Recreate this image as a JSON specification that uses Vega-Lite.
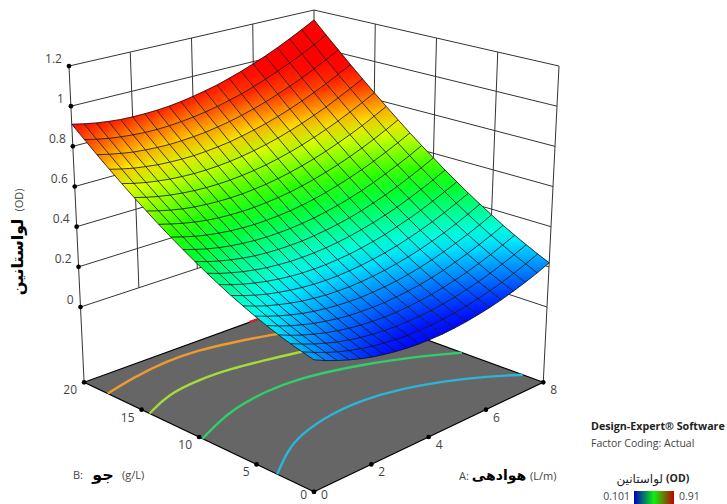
{"$schema":"https://vega.github.io/schema/vega-lite/v6.json","width":727,"height":504,"padding":0,"autosize":{"type":"none"},"background":"white","config":{"view":{"stroke":null}},
"datasets":{
"grid":[
{"A":0,"B":0,"OD":0.23},{"A":0,"B":1,"OD":0.244},{"A":0,"B":2,"OD":0.259},{"A":0,"B":3,"OD":0.277},{"A":0,"B":4,"OD":0.297},{"A":0,"B":5,"OD":0.319},{"A":0,"B":6,"OD":0.344},{"A":0,"B":7,"OD":0.37},{"A":0,"B":8,"OD":0.399},{"A":0,"B":9,"OD":0.43},{"A":0,"B":10,"OD":0.463},{"A":0,"B":11,"OD":0.498},{"A":0,"B":12,"OD":0.535},{"A":0,"B":13,"OD":0.574},{"A":0,"B":14,"OD":0.616},{"A":0,"B":15,"OD":0.659},{"A":0,"B":16,"OD":0.705},{"A":0,"B":17,"OD":0.753},{"A":0,"B":18,"OD":0.803},{"A":0,"B":19,"OD":0.856},{"A":0,"B":20,"OD":0.91},
{"A":0.4,"B":0,"OD":0.204},{"A":0.4,"B":1,"OD":0.219},{"A":0.4,"B":2,"OD":0.235},{"A":0.4,"B":3,"OD":0.253},{"A":0.4,"B":4,"OD":0.274},{"A":0.4,"B":5,"OD":0.297},{"A":0.4,"B":6,"OD":0.322},{"A":0.4,"B":7,"OD":0.349},{"A":0.4,"B":8,"OD":0.378},{"A":0.4,"B":9,"OD":0.409},{"A":0.4,"B":10,"OD":0.443},{"A":0.4,"B":11,"OD":0.479},{"A":0.4,"B":12,"OD":0.517},{"A":0.4,"B":13,"OD":0.557},{"A":0.4,"B":14,"OD":0.599},{"A":0.4,"B":15,"OD":0.643},{"A":0.4,"B":16,"OD":0.689},{"A":0.4,"B":17,"OD":0.738},{"A":0.4,"B":18,"OD":0.789},{"A":0.4,"B":19,"OD":0.842},{"A":0.4,"B":20,"OD":0.897},
{"A":0.8,"B":0,"OD":0.181},{"A":0.8,"B":1,"OD":0.196},{"A":0.8,"B":2,"OD":0.213},{"A":0.8,"B":3,"OD":0.232},{"A":0.8,"B":4,"OD":0.253},{"A":0.8,"B":5,"OD":0.277},{"A":0.8,"B":6,"OD":0.302},{"A":0.8,"B":7,"OD":0.33},{"A":0.8,"B":8,"OD":0.36},{"A":0.8,"B":9,"OD":0.392},{"A":0.8,"B":10,"OD":0.426},{"A":0.8,"B":11,"OD":0.462},{"A":0.8,"B":12,"OD":0.501},{"A":0.8,"B":13,"OD":0.542},{"A":0.8,"B":14,"OD":0.584},{"A":0.8,"B":15,"OD":0.629},{"A":0.8,"B":16,"OD":0.676},{"A":0.8,"B":17,"OD":0.725},{"A":0.8,"B":18,"OD":0.777},{"A":0.8,"B":19,"OD":0.83},{"A":0.8,"B":20,"OD":0.886},
{"A":1.2,"B":0,"OD":0.161},{"A":1.2,"B":1,"OD":0.176},{"A":1.2,"B":2,"OD":0.194},{"A":1.2,"B":3,"OD":0.214},{"A":1.2,"B":4,"OD":0.236},{"A":1.2,"B":5,"OD":0.26},{"A":1.2,"B":6,"OD":0.286},{"A":1.2,"B":7,"OD":0.314},{"A":1.2,"B":8,"OD":0.345},{"A":1.2,"B":9,"OD":0.377},{"A":1.2,"B":10,"OD":0.412},{"A":1.2,"B":11,"OD":0.449},{"A":1.2,"B":12,"OD":0.488},{"A":1.2,"B":13,"OD":0.529},{"A":1.2,"B":14,"OD":0.572},{"A":1.2,"B":15,"OD":0.618},{"A":1.2,"B":16,"OD":0.666},{"A":1.2,"B":17,"OD":0.716},{"A":1.2,"B":18,"OD":0.767},{"A":1.2,"B":19,"OD":0.822},{"A":1.2,"B":20,"OD":0.878},
{"A":1.6,"B":0,"OD":0.143},{"A":1.6,"B":1,"OD":0.159},{"A":1.6,"B":2,"OD":0.177},{"A":1.6,"B":3,"OD":0.198},{"A":1.6,"B":4,"OD":0.22},{"A":1.6,"B":5,"OD":0.245},{"A":1.6,"B":6,"OD":0.272},{"A":1.6,"B":7,"OD":0.301},{"A":1.6,"B":8,"OD":0.332},{"A":1.6,"B":9,"OD":0.365},{"A":1.6,"B":10,"OD":0.4},{"A":1.6,"B":11,"OD":0.438},{"A":1.6,"B":12,"OD":0.478},{"A":1.6,"B":13,"OD":0.519},{"A":1.6,"B":14,"OD":0.563},{"A":1.6,"B":15,"OD":0.61},{"A":1.6,"B":16,"OD":0.658},{"A":1.6,"B":17,"OD":0.708},{"A":1.6,"B":18,"OD":0.761},{"A":1.6,"B":19,"OD":0.816},{"A":1.6,"B":20,"OD":0.872},
{"A":2,"B":0,"OD":0.128},{"A":2,"B":1,"OD":0.145},{"A":2,"B":2,"OD":0.164},{"A":2,"B":3,"OD":0.185},{"A":2,"B":4,"OD":0.208},{"A":2,"B":5,"OD":0.233},{"A":2,"B":6,"OD":0.26},{"A":2,"B":7,"OD":0.29},{"A":2,"B":8,"OD":0.322},{"A":2,"B":9,"OD":0.355},{"A":2,"B":10,"OD":0.391},{"A":2,"B":11,"OD":0.43},{"A":2,"B":12,"OD":0.47},{"A":2,"B":13,"OD":0.512},{"A":2,"B":14,"OD":0.557},{"A":2,"B":15,"OD":0.604},{"A":2,"B":16,"OD":0.653},{"A":2,"B":17,"OD":0.704},{"A":2,"B":18,"OD":0.757},{"A":2,"B":19,"OD":0.812},{"A":2,"B":20,"OD":0.87},
{"A":2.4,"B":0,"OD":0.116},{"A":2.4,"B":1,"OD":0.133},{"A":2.4,"B":2,"OD":0.152},{"A":2.4,"B":3,"OD":0.174},{"A":2.4,"B":4,"OD":0.198},{"A":2.4,"B":5,"OD":0.224},{"A":2.4,"B":6,"OD":0.252},{"A":2.4,"B":7,"OD":0.282},{"A":2.4,"B":8,"OD":0.314},{"A":2.4,"B":9,"OD":0.349},{"A":2.4,"B":10,"OD":0.385},{"A":2.4,"B":11,"OD":0.424},{"A":2.4,"B":12,"OD":0.465},{"A":2.4,"B":13,"OD":0.508},{"A":2.4,"B":14,"OD":0.553},{"A":2.4,"B":15,"OD":0.601},{"A":2.4,"B":16,"OD":0.65},{"A":2.4,"B":17,"OD":0.702},{"A":2.4,"B":18,"OD":0.755},{"A":2.4,"B":19,"OD":0.811},{"A":2.4,"B":20,"OD":0.87},
{"A":2.8,"B":0,"OD":0.106},{"A":2.8,"B":1,"OD":0.124},{"A":2.8,"B":2,"OD":0.144},{"A":2.8,"B":3,"OD":0.166},{"A":2.8,"B":4,"OD":0.19},{"A":2.8,"B":5,"OD":0.217},{"A":2.8,"B":6,"OD":0.245},{"A":2.8,"B":7,"OD":0.276},{"A":2.8,"B":8,"OD":0.309},{"A":2.8,"B":9,"OD":0.344},{"A":2.8,"B":10,"OD":0.382},{"A":2.8,"B":11,"OD":0.421},{"A":2.8,"B":12,"OD":0.462},{"A":2.8,"B":13,"OD":0.506},{"A":2.8,"B":14,"OD":0.552},{"A":2.8,"B":15,"OD":0.6},{"A":2.8,"B":16,"OD":0.65},{"A":2.8,"B":17,"OD":0.702},{"A":2.8,"B":18,"OD":0.757},{"A":2.8,"B":19,"OD":0.813},{"A":2.8,"B":20,"OD":0.872},
{"A":3.2,"B":0,"OD":0.099},{"A":3.2,"B":1,"OD":0.117},{"A":3.2,"B":2,"OD":0.138},{"A":3.2,"B":3,"OD":0.161},{"A":3.2,"B":4,"OD":0.186},{"A":3.2,"B":5,"OD":0.213},{"A":3.2,"B":6,"OD":0.242},{"A":3.2,"B":7,"OD":0.273},{"A":3.2,"B":8,"OD":0.307},{"A":3.2,"B":9,"OD":0.343},{"A":3.2,"B":10,"OD":0.381},{"A":3.2,"B":11,"OD":0.421},{"A":3.2,"B":12,"OD":0.463},{"A":3.2,"B":13,"OD":0.507},{"A":3.2,"B":14,"OD":0.553},{"A":3.2,"B":15,"OD":0.602},{"A":3.2,"B":16,"OD":0.653},{"A":3.2,"B":17,"OD":0.706},{"A":3.2,"B":18,"OD":0.761},{"A":3.2,"B":19,"OD":0.818},{"A":3.2,"B":20,"OD":0.877},
{"A":3.6,"B":0,"OD":0.094},{"A":3.6,"B":1,"OD":0.113},{"A":3.6,"B":2,"OD":0.135},{"A":3.6,"B":3,"OD":0.158},{"A":3.6,"B":4,"OD":0.184},{"A":3.6,"B":5,"OD":0.211},{"A":3.6,"B":6,"OD":0.241},{"A":3.6,"B":7,"OD":0.273},{"A":3.6,"B":8,"OD":0.307},{"A":3.6,"B":9,"OD":0.344},{"A":3.6,"B":10,"OD":0.382},{"A":3.6,"B":11,"OD":0.423},{"A":3.6,"B":12,"OD":0.466},{"A":3.6,"B":13,"OD":0.511},{"A":3.6,"B":14,"OD":0.558},{"A":3.6,"B":15,"OD":0.607},{"A":3.6,"B":16,"OD":0.658},{"A":3.6,"B":17,"OD":0.712},{"A":3.6,"B":18,"OD":0.767},{"A":3.6,"B":19,"OD":0.825},{"A":3.6,"B":20,"OD":0.885},
{"A":4,"B":0,"OD":0.093},{"A":4,"B":1,"OD":0.112},{"A":4,"B":2,"OD":0.134},{"A":4,"B":3,"OD":0.158},{"A":4,"B":4,"OD":0.184},{"A":4,"B":5,"OD":0.213},{"A":4,"B":6,"OD":0.243},{"A":4,"B":7,"OD":0.276},{"A":4,"B":8,"OD":0.311},{"A":4,"B":9,"OD":0.348},{"A":4,"B":10,"OD":0.387},{"A":4,"B":11,"OD":0.428},{"A":4,"B":12,"OD":0.471},{"A":4,"B":13,"OD":0.517},{"A":4,"B":14,"OD":0.564},{"A":4,"B":15,"OD":0.614},{"A":4,"B":16,"OD":0.666},{"A":4,"B":17,"OD":0.72},{"A":4,"B":18,"OD":0.777},{"A":4,"B":19,"OD":0.835},{"A":4,"B":20,"OD":0.896},
{"A":4.4,"B":0,"OD":0.093},{"A":4.4,"B":1,"OD":0.114},{"A":4.4,"B":2,"OD":0.136},{"A":4.4,"B":3,"OD":0.161},{"A":4.4,"B":4,"OD":0.188},{"A":4.4,"B":5,"OD":0.217},{"A":4.4,"B":6,"OD":0.248},{"A":4.4,"B":7,"OD":0.281},{"A":4.4,"B":8,"OD":0.316},{"A":4.4,"B":9,"OD":0.354},{"A":4.4,"B":10,"OD":0.394},{"A":4.4,"B":11,"OD":0.435},{"A":4.4,"B":12,"OD":0.479},{"A":4.4,"B":13,"OD":0.525},{"A":4.4,"B":14,"OD":0.574},{"A":4.4,"B":15,"OD":0.624},{"A":4.4,"B":16,"OD":0.677},{"A":4.4,"B":17,"OD":0.732},{"A":4.4,"B":18,"OD":0.788},{"A":4.4,"B":19,"OD":0.847},{"A":4.4,"B":20,"OD":0.909},
{"A":4.8,"B":0,"OD":0.097},{"A":4.8,"B":1,"OD":0.118},{"A":4.8,"B":2,"OD":0.141},{"A":4.8,"B":3,"OD":0.166},{"A":4.8,"B":4,"OD":0.194},{"A":4.8,"B":5,"OD":0.223},{"A":4.8,"B":6,"OD":0.255},{"A":4.8,"B":7,"OD":0.289},{"A":4.8,"B":8,"OD":0.325},{"A":4.8,"B":9,"OD":0.363},{"A":4.8,"B":10,"OD":0.403},{"A":4.8,"B":11,"OD":0.446},{"A":4.8,"B":12,"OD":0.49},{"A":4.8,"B":13,"OD":0.537},{"A":4.8,"B":14,"OD":0.586},{"A":4.8,"B":15,"OD":0.637},{"A":4.8,"B":16,"OD":0.69},{"A":4.8,"B":17,"OD":0.746},{"A":4.8,"B":18,"OD":0.803},{"A":4.8,"B":19,"OD":0.863},{"A":4.8,"B":20,"OD":0.924},
{"A":5.2,"B":0,"OD":0.103},{"A":5.2,"B":1,"OD":0.125},{"A":5.2,"B":2,"OD":0.148},{"A":5.2,"B":3,"OD":0.174},{"A":5.2,"B":4,"OD":0.202},{"A":5.2,"B":5,"OD":0.232},{"A":5.2,"B":6,"OD":0.265},{"A":5.2,"B":7,"OD":0.299},{"A":5.2,"B":8,"OD":0.336},{"A":5.2,"B":9,"OD":0.375},{"A":5.2,"B":10,"OD":0.415},{"A":5.2,"B":11,"OD":0.458},{"A":5.2,"B":12,"OD":0.504},{"A":5.2,"B":13,"OD":0.551},{"A":5.2,"B":14,"OD":0.601},{"A":5.2,"B":15,"OD":0.652},{"A":5.2,"B":16,"OD":0.706},{"A":5.2,"B":17,"OD":0.762},{"A":5.2,"B":18,"OD":0.82},{"A":5.2,"B":19,"OD":0.88},{"A":5.2,"B":20,"OD":0.943},
{"A":5.6,"B":0,"OD":0.112},{"A":5.6,"B":1,"OD":0.134},{"A":5.6,"B":2,"OD":0.158},{"A":5.6,"B":3,"OD":0.185},{"A":5.6,"B":4,"OD":0.213},{"A":5.6,"B":5,"OD":0.244},{"A":5.6,"B":6,"OD":0.277},{"A":5.6,"B":7,"OD":0.312},{"A":5.6,"B":8,"OD":0.349},{"A":5.6,"B":9,"OD":0.389},{"A":5.6,"B":10,"OD":0.43},{"A":5.6,"B":11,"OD":0.474},{"A":5.6,"B":12,"OD":0.52},{"A":5.6,"B":13,"OD":0.568},{"A":5.6,"B":14,"OD":0.618},{"A":5.6,"B":15,"OD":0.67},{"A":5.6,"B":16,"OD":0.725},{"A":5.6,"B":17,"OD":0.781},{"A":5.6,"B":18,"OD":0.84},{"A":5.6,"B":19,"OD":0.901},{"A":5.6,"B":20,"OD":0.964},
{"A":6,"B":0,"OD":0.123},{"A":6,"B":1,"OD":0.146},{"A":6,"B":2,"OD":0.171},{"A":6,"B":3,"OD":0.198},{"A":6,"B":4,"OD":0.227},{"A":6,"B":5,"OD":0.259},{"A":6,"B":6,"OD":0.292},{"A":6,"B":7,"OD":0.328},{"A":6,"B":8,"OD":0.366},{"A":6,"B":9,"OD":0.406},{"A":6,"B":10,"OD":0.448},{"A":6,"B":11,"OD":0.492},{"A":6,"B":12,"OD":0.539},{"A":6,"B":13,"OD":0.587},{"A":6,"B":14,"OD":0.638},{"A":6,"B":15,"OD":0.691},{"A":6,"B":16,"OD":0.746},{"A":6,"B":17,"OD":0.803},{"A":6,"B":18,"OD":0.863},{"A":6,"B":19,"OD":0.924},{"A":6,"B":20,"OD":0.988},
{"A":6.4,"B":0,"OD":0.137},{"A":6.4,"B":1,"OD":0.161},{"A":6.4,"B":2,"OD":0.186},{"A":6.4,"B":3,"OD":0.214},{"A":6.4,"B":4,"OD":0.244},{"A":6.4,"B":5,"OD":0.276},{"A":6.4,"B":6,"OD":0.31},{"A":6.4,"B":7,"OD":0.346},{"A":6.4,"B":8,"OD":0.385},{"A":6.4,"B":9,"OD":0.425},{"A":6.4,"B":10,"OD":0.468},{"A":6.4,"B":11,"OD":0.513},{"A":6.4,"B":12,"OD":0.56},{"A":6.4,"B":13,"OD":0.609},{"A":6.4,"B":14,"OD":0.661},{"A":6.4,"B":15,"OD":0.714},{"A":6.4,"B":16,"OD":0.77},{"A":6.4,"B":17,"OD":0.828},{"A":6.4,"B":18,"OD":0.888},{"A":6.4,"B":19,"OD":0.95},{"A":6.4,"B":20,"OD":1.014},
{"A":6.8,"B":0,"OD":0.154},{"A":6.8,"B":1,"OD":0.178},{"A":6.8,"B":2,"OD":0.204},{"A":6.8,"B":3,"OD":0.233},{"A":6.8,"B":4,"OD":0.263},{"A":6.8,"B":5,"OD":0.296},{"A":6.8,"B":6,"OD":0.33},{"A":6.8,"B":7,"OD":0.367},{"A":6.8,"B":8,"OD":0.406},{"A":6.8,"B":9,"OD":0.448},{"A":6.8,"B":10,"OD":0.491},{"A":6.8,"B":11,"OD":0.537},{"A":6.8,"B":12,"OD":0.584},{"A":6.8,"B":13,"OD":0.634},{"A":6.8,"B":14,"OD":0.686},{"A":6.8,"B":15,"OD":0.74},{"A":6.8,"B":16,"OD":0.796},{"A":6.8,"B":17,"OD":0.855},{"A":6.8,"B":18,"OD":0.915},{"A":6.8,"B":19,"OD":0.978},{"A":6.8,"B":20,"OD":1.043},
{"A":7.2,"B":0,"OD":0.173},{"A":7.2,"B":1,"OD":0.198},{"A":7.2,"B":2,"OD":0.225},{"A":7.2,"B":3,"OD":0.254},{"A":7.2,"B":4,"OD":0.285},{"A":7.2,"B":5,"OD":0.318},{"A":7.2,"B":6,"OD":0.353},{"A":7.2,"B":7,"OD":0.391},{"A":7.2,"B":8,"OD":0.431},{"A":7.2,"B":9,"OD":0.473},{"A":7.2,"B":10,"OD":0.517},{"A":7.2,"B":11,"OD":0.563},{"A":7.2,"B":12,"OD":0.611},{"A":7.2,"B":13,"OD":0.661},{"A":7.2,"B":14,"OD":0.714},{"A":7.2,"B":15,"OD":0.769},{"A":7.2,"B":16,"OD":0.826},{"A":7.2,"B":17,"OD":0.885},{"A":7.2,"B":18,"OD":0.946},{"A":7.2,"B":19,"OD":1.009},{"A":7.2,"B":20,"OD":1.075},
{"A":7.6,"B":0,"OD":0.195},{"A":7.6,"B":1,"OD":0.221},{"A":7.6,"B":2,"OD":0.248},{"A":7.6,"B":3,"OD":0.278},{"A":7.6,"B":4,"OD":0.309},{"A":7.6,"B":5,"OD":0.343},{"A":7.6,"B":6,"OD":0.379},{"A":7.6,"B":7,"OD":0.417},{"A":7.6,"B":8,"OD":0.458},{"A":7.6,"B":9,"OD":0.5},{"A":7.6,"B":10,"OD":0.545},{"A":7.6,"B":11,"OD":0.591},{"A":7.6,"B":12,"OD":0.64},{"A":7.6,"B":13,"OD":0.691},{"A":7.6,"B":14,"OD":0.745},{"A":7.6,"B":15,"OD":0.8},{"A":7.6,"B":16,"OD":0.858},{"A":7.6,"B":17,"OD":0.917},{"A":7.6,"B":18,"OD":0.979},{"A":7.6,"B":19,"OD":1.043},{"A":7.6,"B":20,"OD":1.109},
{"A":8,"B":0,"OD":0.22},{"A":8,"B":1,"OD":0.246},{"A":8,"B":2,"OD":0.274},{"A":8,"B":3,"OD":0.304},{"A":8,"B":4,"OD":0.336},{"A":8,"B":5,"OD":0.371},{"A":8,"B":6,"OD":0.408},{"A":8,"B":7,"OD":0.446},{"A":8,"B":8,"OD":0.487},{"A":8,"B":9,"OD":0.53},{"A":8,"B":10,"OD":0.576},{"A":8,"B":11,"OD":0.623},{"A":8,"B":12,"OD":0.672},{"A":8,"B":13,"OD":0.724},{"A":8,"B":14,"OD":0.778},{"A":8,"B":15,"OD":0.834},{"A":8,"B":16,"OD":0.892},{"A":8,"B":17,"OD":0.952},{"A":8,"B":18,"OD":1.015},{"A":8,"B":19,"OD":1.079},{"A":8,"B":20,"OD":1.146}
],
"floor":[{"A":0,"B":0,"OD":-0.375,"k":0},{"A":8,"B":0,"OD":-0.375,"k":1},{"A":8,"B":20,"OD":-0.375,"k":2},{"A":0,"B":20,"OD":-0.375,"k":3},{"A":0,"B":0,"OD":-0.375,"k":4}],
"walls":[
{"id":"z0","k":0,"A":0,"B":20,"OD":0},{"id":"z0","k":1,"A":8,"B":20,"OD":0},{"id":"z0","k":2,"A":8,"B":0,"OD":0},
{"id":"z2","k":0,"A":0,"B":20,"OD":0.2},{"id":"z2","k":1,"A":8,"B":20,"OD":0.2},{"id":"z2","k":2,"A":8,"B":0,"OD":0.2},
{"id":"z4","k":0,"A":0,"B":20,"OD":0.4},{"id":"z4","k":1,"A":8,"B":20,"OD":0.4},{"id":"z4","k":2,"A":8,"B":0,"OD":0.4},
{"id":"z6","k":0,"A":0,"B":20,"OD":0.6},{"id":"z6","k":1,"A":8,"B":20,"OD":0.6},{"id":"z6","k":2,"A":8,"B":0,"OD":0.6},
{"id":"z8","k":0,"A":0,"B":20,"OD":0.8},{"id":"z8","k":1,"A":8,"B":20,"OD":0.8},{"id":"z8","k":2,"A":8,"B":0,"OD":0.8},
{"id":"z10","k":0,"A":0,"B":20,"OD":1},{"id":"z10","k":1,"A":8,"B":20,"OD":1},{"id":"z10","k":2,"A":8,"B":0,"OD":1},
{"id":"z12","k":0,"A":0,"B":20,"OD":1.2},{"id":"z12","k":1,"A":8,"B":20,"OD":1.2},{"id":"z12","k":2,"A":8,"B":0,"OD":1.2},
{"id":"a2","k":0,"A":2,"B":20,"OD":0},{"id":"a2","k":1,"A":2,"B":20,"OD":1.2},
{"id":"a4","k":0,"A":4,"B":20,"OD":0},{"id":"a4","k":1,"A":4,"B":20,"OD":1.2},
{"id":"a6","k":0,"A":6,"B":20,"OD":0},{"id":"a6","k":1,"A":6,"B":20,"OD":1.2},
{"id":"b5","k":0,"A":8,"B":5,"OD":0},{"id":"b5","k":1,"A":8,"B":5,"OD":1.2},
{"id":"b10","k":0,"A":8,"B":10,"OD":0},{"id":"b10","k":1,"A":8,"B":10,"OD":1.2},
{"id":"b15","k":0,"A":8,"B":15,"OD":0},{"id":"b15","k":1,"A":8,"B":15,"OD":1.2},
{"id":"cL","k":0,"A":0,"B":20,"OD":-0.375},{"id":"cL","k":1,"A":0,"B":20,"OD":1.2},
{"id":"cR","k":0,"A":8,"B":0,"OD":-0.375},{"id":"cR","k":1,"A":8,"B":0,"OD":1.2},
{"id":"cK","k":0,"A":8,"B":20,"OD":-0.375},{"id":"cK","k":1,"A":8,"B":20,"OD":1.2}
],
"contours":[
{"level":"a","A":0,"B":3.2},{"level":"a","A":1.01,"B":4.88},{"level":"a","A":1.89,"B":5.95},{"level":"a","A":3.25,"B":6.7},{"level":"a","A":4.38,"B":6.7},{"level":"a","A":5.38,"B":6.2},{"level":"a","A":6.57,"B":4.82},{"level":"a","A":7.38,"B":3.36},{"level":"a","A":8,"B":1.8},
{"level":"b","A":0,"B":9.7},{"level":"b","A":0.83,"B":10.54},{"level":"b","A":1.71,"B":11.34},{"level":"b","A":3.1,"B":11.84},{"level":"b","A":4.13,"B":11.7},{"level":"b","A":5.1,"B":11.07},{"level":"b","A":5.88,"B":10.33},{"level":"b","A":7.05,"B":8.9},{"level":"b","A":8,"B":7.1},
{"level":"c","A":0,"B":14.3},{"level":"c","A":1.06,"B":15.46},{"level":"c","A":2.34,"B":15.8},{"level":"c","A":3.4,"B":15.6},{"level":"c","A":4.28,"B":15.15},{"level":"c","A":5.24,"B":14.58},{"level":"c","A":6,"B":14},
{"level":"d","A":0,"B":17.95},{"level":"d","A":1.14,"B":18.6},{"level":"d","A":2.5,"B":19.06},{"level":"d","A":3.6,"B":18.94},{"level":"d","A":4.4,"B":18.5},{"level":"d","A":5.67,"B":17.6},{"level":"d","A":6.2,"B":17},
{"level":"e","A":5.75,"B":20},{"level":"e","A":6.1,"B":20}
],
"zticks":[{"A":0,"B":20,"OD":0,"t":"0"},{"A":0,"B":20,"OD":0.2,"t":"0.2"},{"A":0,"B":20,"OD":0.4,"t":"0.4"},{"A":0,"B":20,"OD":0.6,"t":"0.6"},{"A":0,"B":20,"OD":0.8,"t":"0.8"},{"A":0,"B":20,"OD":1,"t":"1"},{"A":0,"B":20,"OD":1.2,"t":"1.2"}],
"bticks":[{"A":0,"B":0,"OD":-0.375,"t":"0"},{"A":0,"B":5,"OD":-0.375,"t":"5"},{"A":0,"B":10,"OD":-0.375,"t":"10"},{"A":0,"B":15,"OD":-0.375,"t":"15"},{"A":0,"B":20,"OD":-0.375,"t":"20"}],
"aticks":[{"A":0,"B":0,"OD":-0.375,"t":"0"},{"A":2,"B":0,"OD":-0.375,"t":"2"},{"A":4,"B":0,"OD":-0.375,"t":"4"},{"A":6,"B":0,"OD":-0.375,"t":"6"},{"A":8,"B":0,"OD":-0.375,"t":"8"}]
},
"encoding":{"x":{"field":"sx","type":"quantitative","scale":{"domain":[0,727],"nice":false,"zero":false},"axis":null},"y":{"field":"sy","type":"quantitative","scale":{"domain":[504,0],"nice":false,"zero":false},"axis":null}},
"layer":[
{"data":{"name":"floor"},"transform":[{"calculate":"datum.A/8","as":"u"},{"calculate":"datum.B/20","as":"v"},{"calculate":"(1-datum.u)*(1-datum.v)*314+(1-datum.u)*datum.v*(80.5-9.6*datum.OD)+datum.u*(1-datum.v)*(547+10*datum.OD)+datum.u*datum.v*314","as":"sx"},{"calculate":"(1-datum.u)*(1-datum.v)*(410-218*datum.OD)+((1-datum.u)*datum.v+datum.u*(1-datum.v))*(307-200.8*datum.OD)+datum.u*datum.v*(230-183.3*datum.OD)","as":"sy"}],
"mark":{"type":"line","filled":true,"fill":"#666666","stroke":"#000000","strokeWidth":1.2},"encoding":{"order":{"field":"k"}}},
{"data":{"name":"walls"},"transform":[{"calculate":"datum.A/8","as":"u"},{"calculate":"datum.B/20","as":"v"},{"calculate":"(1-datum.u)*(1-datum.v)*314+(1-datum.u)*datum.v*(80.5-9.6*datum.OD)+datum.u*(1-datum.v)*(547+10*datum.OD)+datum.u*datum.v*314","as":"sx"},{"calculate":"(1-datum.u)*(1-datum.v)*(410-218*datum.OD)+((1-datum.u)*datum.v+datum.u*(1-datum.v))*(307-200.8*datum.OD)+datum.u*datum.v*(230-183.3*datum.OD)","as":"sy"}],
"mark":{"type":"line","stroke":"#333333","strokeWidth":1},"encoding":{"detail":{"field":"id"},"order":{"field":"k"}}},
{"data":{"name":"contours"},"transform":[{"calculate":"-0.375","as":"OD"},{"calculate":"datum.A/8","as":"u"},{"calculate":"datum.B/20","as":"v"},{"calculate":"(1-datum.u)*(1-datum.v)*314+(1-datum.u)*datum.v*(80.5-9.6*datum.OD)+datum.u*(1-datum.v)*(547+10*datum.OD)+datum.u*datum.v*314","as":"sx"},{"calculate":"(1-datum.u)*(1-datum.v)*(410-218*datum.OD)+((1-datum.u)*datum.v+datum.u*(1-datum.v))*(307-200.8*datum.OD)+datum.u*datum.v*(230-183.3*datum.OD)","as":"sy"}],
"mark":{"type":"line","interpolate":"basis","strokeWidth":2.4},"encoding":{"order":{"field":"A"},"color":{"field":"level","type":"nominal","legend":null,"scale":{"domain":["a","b","c","d","e"],"range":["#2bb5d8","#2fd06a","#a6dc3a","#ee9a30","#d02030"]}}}},
{"data":{"name":"grid"},"transform":[
{"calculate":"[0,1,2,3]","as":"corner"},{"flatten":["corner"]},
{"calculate":"round(datum.A/0.4)-((datum.corner==1||datum.corner==2)?1:0)","as":"ci"},
{"calculate":"datum.B-((datum.corner==2||datum.corner==3)?1:0)","as":"cj"},
{"filter":"datum.ci>=0&&datum.ci<20&&datum.cj>=0&&datum.cj<20"},
{"calculate":"datum.ci*100+datum.cj","as":"cell"},
{"calculate":"datum.A/8","as":"u"},{"calculate":"datum.B/20","as":"v"},{"calculate":"(1-datum.u)*(1-datum.v)*314+(1-datum.u)*datum.v*(80.5-9.6*datum.OD)+datum.u*(1-datum.v)*(547+10*datum.OD)+datum.u*datum.v*314","as":"sx"},{"calculate":"(1-datum.u)*(1-datum.v)*(410-218*datum.OD)+((1-datum.u)*datum.v+datum.u*(1-datum.v))*(307-200.8*datum.OD)+datum.u*datum.v*(230-183.3*datum.OD)","as":"sy"},
{"calculate":"datum.corner==0?datum.OD:null","as":"f0"},{"calculate":"datum.corner==1?datum.OD:null","as":"f1"},{"calculate":"datum.corner==2?datum.OD:null","as":"f2"},{"calculate":"datum.corner==3?datum.OD:null","as":"f3"},
{"joinaggregate":[{"op":"max","field":"f0","as":"zF"},{"op":"max","field":"f1","as":"zR"},{"op":"max","field":"f2","as":"zK"},{"op":"max","field":"f3","as":"zL"}],"groupby":["cell"]},
{"calculate":"datum.zR-datum.zL","as":"gx"},{"calculate":"datum.zF-datum.zK","as":"gy"},
{"calculate":"(abs(datum.gx)+abs(datum.gy))/2","as":"dz"},
{"calculate":"datum.dz/(datum.gx*datum.gx+datum.gy*datum.gy+1e-9)","as":"ga"},
{"calculate":"(datum.zF+datum.zR+datum.zK+datum.zL)/4","as":"zc"},
{"calculate":"(datum.zc-datum.dz-0.101)/0.809","as":"t0"},{"calculate":"(datum.zc+datum.dz-0.101)/0.809","as":"t1"},
{"calculate":"'rgb('+round(255*clamp(4*datum.t0-2,0,1))+','+round(255*clamp(min(4*datum.t0,4-4*datum.t0),0,1))+','+round(255*clamp(2-4*datum.t0,0,1))+')'","as":"c0"},
{"calculate":"'rgb('+round(255*clamp(4*datum.t1-2,0,1))+','+round(255*clamp(min(4*datum.t1,4-4*datum.t1),0,1))+','+round(255*clamp(2-4*datum.t1,0,1))+')'","as":"c1"},
{"calculate":"{gradient:'linear',x1:0.5-datum.gx*datum.ga,y1:0.5-datum.gy*datum.ga,x2:0.5+datum.gx*datum.ga,y2:0.5+datum.gy*datum.ga,stops:[{offset:0,color:datum.c0},{offset:1,color:datum.c1}]}","as":"g"}
],
"mark":{"type":"line","filled":true,"strokeWidth":0.4},"encoding":{"detail":{"field":"cell"},"order":{"field":"corner"},"fill":{"field":"g","type":"nominal","scale":null,"legend":null},"stroke":{"field":"g","type":"nominal","scale":null,"legend":null}}},
{"data":{"name":"grid"},"transform":[{"calculate":"datum.A/8","as":"u"},{"calculate":"datum.B/20","as":"v"},{"calculate":"(1-datum.u)*(1-datum.v)*314+(1-datum.u)*datum.v*(80.5-9.6*datum.OD)+datum.u*(1-datum.v)*(547+10*datum.OD)+datum.u*datum.v*314","as":"sx"},{"calculate":"(1-datum.u)*(1-datum.v)*(410-218*datum.OD)+((1-datum.u)*datum.v+datum.u*(1-datum.v))*(307-200.8*datum.OD)+datum.u*datum.v*(230-183.3*datum.OD)","as":"sy"}],
"mark":{"type":"line","stroke":"#111111","strokeWidth":0.9,"strokeOpacity":0.9},"encoding":{"detail":{"field":"A"},"order":{"field":"B"}}},
{"data":{"name":"grid"},"transform":[{"calculate":"datum.A/8","as":"u"},{"calculate":"datum.B/20","as":"v"},{"calculate":"(1-datum.u)*(1-datum.v)*314+(1-datum.u)*datum.v*(80.5-9.6*datum.OD)+datum.u*(1-datum.v)*(547+10*datum.OD)+datum.u*datum.v*314","as":"sx"},{"calculate":"(1-datum.u)*(1-datum.v)*(410-218*datum.OD)+((1-datum.u)*datum.v+datum.u*(1-datum.v))*(307-200.8*datum.OD)+datum.u*datum.v*(230-183.3*datum.OD)","as":"sy"}],
"mark":{"type":"line","stroke":"#111111","strokeWidth":0.9,"strokeOpacity":0.9},"encoding":{"detail":{"field":"B"},"order":{"field":"A"}}},
{"data":{"name":"zticks"},"transform":[{"calculate":"datum.A/8","as":"u"},{"calculate":"datum.B/20","as":"v"},{"calculate":"(1-datum.u)*(1-datum.v)*314+(1-datum.u)*datum.v*(80.5-9.6*datum.OD)+datum.u*(1-datum.v)*(547+10*datum.OD)+datum.u*datum.v*314","as":"sx"},{"calculate":"(1-datum.u)*(1-datum.v)*(410-218*datum.OD)+((1-datum.u)*datum.v+datum.u*(1-datum.v))*(307-200.8*datum.OD)+datum.u*datum.v*(230-183.3*datum.OD)","as":"sy"}],
"layer":[{"mark":{"type":"circle","size":22,"color":"#000000","opacity":1}},{"mark":{"type":"text","align":"right","baseline":"middle","dx":-7,"dy":-7.5,"fontSize":12,"font":"Open Sans","color":"#444444"},"encoding":{"text":{"field":"t"}}}]},
{"data":{"name":"bticks"},"transform":[{"calculate":"datum.A/8","as":"u"},{"calculate":"datum.B/20","as":"v"},{"calculate":"(1-datum.u)*(1-datum.v)*314+(1-datum.u)*datum.v*(80.5-9.6*datum.OD)+datum.u*(1-datum.v)*(547+10*datum.OD)+datum.u*datum.v*314","as":"sx"},{"calculate":"(1-datum.u)*(1-datum.v)*(410-218*datum.OD)+((1-datum.u)*datum.v+datum.u*(1-datum.v))*(307-200.8*datum.OD)+datum.u*datum.v*(230-183.3*datum.OD)","as":"sy"}],
"layer":[{"mark":{"type":"circle","size":22,"color":"#000000","opacity":1}},{"transform":[{"filter":"datum.t!='0'"}],"mark":{"type":"text","align":"right","baseline":"middle","dx":-7,"dy":8,"fontSize":12,"font":"Open Sans","color":"#444444"},"encoding":{"text":{"field":"t"}}},{"transform":[{"filter":"datum.t=='0'"}],"mark":{"type":"text","align":"right","baseline":"middle","dx":-7,"dy":3,"fontSize":12,"font":"Open Sans","color":"#444444"},"encoding":{"text":{"field":"t"}}}]},
{"data":{"name":"aticks"},"transform":[{"calculate":"datum.A/8","as":"u"},{"calculate":"datum.B/20","as":"v"},{"calculate":"(1-datum.u)*(1-datum.v)*314+(1-datum.u)*datum.v*(80.5-9.6*datum.OD)+datum.u*(1-datum.v)*(547+10*datum.OD)+datum.u*datum.v*314","as":"sx"},{"calculate":"(1-datum.u)*(1-datum.v)*(410-218*datum.OD)+((1-datum.u)*datum.v+datum.u*(1-datum.v))*(307-200.8*datum.OD)+datum.u*datum.v*(230-183.3*datum.OD)","as":"sy"}],
"layer":[{"mark":{"type":"circle","size":22,"color":"#000000","opacity":1}},{"transform":[{"filter":"datum.t!='0'"}],"mark":{"type":"text","align":"left","baseline":"middle","dx":7,"dy":8,"fontSize":12,"font":"Open Sans","color":"#444444"},"encoding":{"text":{"field":"t"}}},{"transform":[{"filter":"datum.t=='0'"}],"mark":{"type":"text","align":"left","baseline":"middle","dx":7,"dy":3,"fontSize":12,"font":"Open Sans","color":"#444444"},"encoding":{"text":{"field":"t"}}}]},
{"data":{"values":[{"t":"لواستانین"}]},"mark":{"type":"text","x":18,"y":257,"angle":270,"align":"center","baseline":"middle","font":"DejaVu Sans","fontWeight":"bold","fontSize":16,"color":"#000000"},"encoding":{"x":null,"y":null,"text":{"field":"t"}}},
{"data":{"values":[{"t":"(OD)"}]},"mark":{"type":"text","x":20,"y":200,"angle":270,"align":"center","baseline":"middle","font":"Open Sans","fontSize":11,"color":"#444444"},"encoding":{"x":null,"y":null,"text":{"field":"t"}}},
{"data":{"values":[{"t":"B:"}]},"mark":{"type":"text","x":73,"y":476,"align":"left","baseline":"middle","font":"Open Sans","fontSize":11,"color":"#444444"},"encoding":{"x":null,"y":null,"text":{"field":"t"}}},
{"data":{"values":[{"t":"جو"}]},"mark":{"type":"text","x":103,"y":475,"align":"center","baseline":"middle","font":"DejaVu Sans","fontWeight":"bold","fontSize":16,"color":"#000000"},"encoding":{"x":null,"y":null,"text":{"field":"t"}}},
{"data":{"values":[{"t":"(g/L)"}]},"mark":{"type":"text","x":122,"y":476,"align":"left","baseline":"middle","font":"Open Sans","fontSize":11,"color":"#444444"},"encoding":{"x":null,"y":null,"text":{"field":"t"}}},
{"data":{"values":[{"t":"A:"}]},"mark":{"type":"text","x":459,"y":477,"align":"left","baseline":"middle","font":"Open Sans","fontSize":11,"color":"#444444"},"encoding":{"x":null,"y":null,"text":{"field":"t"}}},
{"data":{"values":[{"t":"هوادهی"}]},"mark":{"type":"text","x":499,"y":476,"align":"center","baseline":"middle","font":"DejaVu Sans","fontWeight":"bold","fontSize":14,"color":"#000000"},"encoding":{"x":null,"y":null,"text":{"field":"t"}}},
{"data":{"values":[{"t":"(L/m)"}]},"mark":{"type":"text","x":530,"y":477,"align":"left","baseline":"middle","font":"Open Sans","fontSize":11,"color":"#444444"},"encoding":{"x":null,"y":null,"text":{"field":"t"}}},
{"data":{"values":[{"t":"Design-Expert® Software"}]},"mark":{"type":"text","x":591,"y":427,"align":"left","baseline":"middle","font":"Open Sans","fontWeight":"bold","fontSize":10.7,"color":"#222222"},"encoding":{"x":null,"y":null,"text":{"field":"t"}}},
{"data":{"values":[{"t":"Factor Coding: Actual"}]},"mark":{"type":"text","x":591,"y":444,"align":"left","baseline":"middle","font":"Open Sans","fontSize":10.5,"color":"#444444"},"encoding":{"x":null,"y":null,"text":{"field":"t"}}},
{"data":{"values":[{"t":"لواستانین"}]},"mark":{"type":"text","x":663,"y":479,"align":"right","baseline":"middle","font":"DejaVu Sans","fontSize":12,"color":"#222222"},"encoding":{"x":null,"y":null,"text":{"field":"t"}}},
{"data":{"values":[{"t":"(OD)"}]},"mark":{"type":"text","x":666,"y":479,"align":"left","baseline":"middle","font":"Open Sans","fontWeight":"bold","fontSize":10.5,"color":"#222222"},"encoding":{"x":null,"y":null,"text":{"field":"t"}}},
{"data":{"values":[{"t":"0.101"}]},"mark":{"type":"text","x":630,"y":497,"align":"right","baseline":"middle","font":"Open Sans","fontSize":10.5,"color":"#444444"},"encoding":{"x":null,"y":null,"text":{"field":"t"}}},
{"data":{"values":[{"t":"0.91"}]},"mark":{"type":"text","x":679,"y":497,"align":"left","baseline":"middle","font":"Open Sans","fontSize":10.5,"color":"#444444"},"encoding":{"x":null,"y":null,"text":{"field":"t"}}},
{"data":{"values":[{"t":"bar"}]},"mark":{"type":"rect","x":634,"x2":674,"y":491,"y2":504,"fill":{"gradient":"linear","x1":0,"y1":0,"x2":1,"y2":0,"stops":[{"offset":0,"color":"#0000c0"},{"offset":0.5,"color":"#10f010"},{"offset":1,"color":"#c00000"}]}},"encoding":{"x":null,"y":null}}
]}
